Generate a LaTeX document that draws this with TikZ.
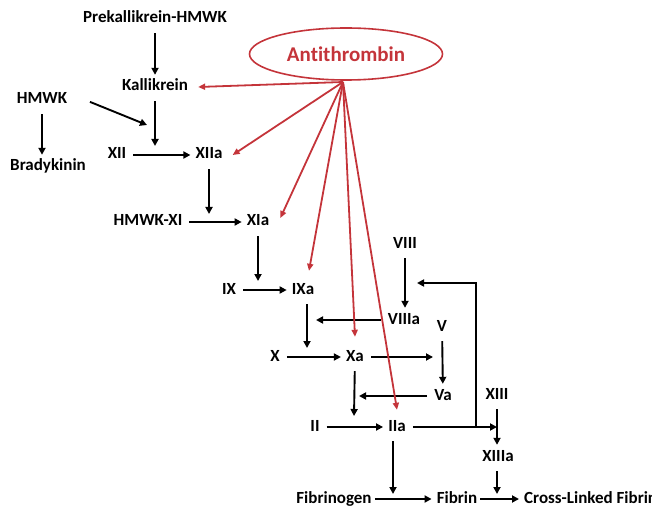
\documentclass[tikz,border=0pt]{standalone}
\usepackage{fontspec}
\setmainfont{Carlito}[Ligatures=NoCommon]
\usetikzlibrary{arrows.meta,shapes.geometric}
\definecolor{atred}{RGB}{196,52,58}

\begin{document}
\begin{tikzpicture}[
  x=1pt, y=-1pt,
  >={Triangle[length=7pt,width=7pt]},
  fac/.style={font=\fontsize{17}{20}\selectfont\bfseries, inner sep=2pt,
              text height=11pt, text depth=3pt},
  inhib/.style={draw=atred, ellipse, line width=1.6pt, text=atred,
                font=\fontsize{21}{24}\selectfont\bfseries,
                minimum width=193pt, minimum height=52pt},
  e/.style={->, line width=1.9pt, shorten >=3pt, shorten <=5pt},
  ep/.style={e, shorten >=0pt},
  ar/.style={->, atred, line width=1.8pt, >={Triangle[length=7pt,width=6pt]}}
]
\clip (0,0) rectangle (652,510);

% Factors are placed at the pixel positions of the reference (y runs downward).
\node[fac] (pk)    at (155,19)  {Prekallikrein-HMWK};
\node[fac] (kal)   at (155,87)  {Kallikrein};
\node[fac] (hmwk)  at (42,100)  {HMWK};
\node[fac] (brady) at (48,167)  {Bradykinin};
\node[fac] (xii)   at (117,155) {XII};
\node[fac] (xiia)  at (209,155) {XIIa};
\node[fac] (hxi)   at (148,222) {HMWK-XI};
\node[fac] (xia)   at (258,222) {XIa};
\node[fac] (ix)    at (229,290) {IX};
\node[fac] (ixa)   at (303,290) {IXa};
\node[fac] (viii)  at (405,244) {VIII};
\node[fac] (viiia) at (404,320) {VIIIa};
\node[fac] (v)     at (442,327) {V};
\node[fac] (x)     at (275,357) {X};
\node[fac] (xa)    at (355,357) {Xa};
\node[fac] (va)    at (443,396) {Va};
\node[fac] (xiii)  at (497,395) {XIII};
\node[fac] (ii)    at (315,427) {II};
\node[fac] (iia)   at (397,427) {IIa};
\node[fac] (xiiia) at (498,457) {XIIIa};
\node[fac] (fbg)   at (334,499) {Fibrinogen};
\node[fac] (fib)   at (457,499) {Fibrin};
\node[fac, anchor=west] (clf) at (522,499) {Cross-Linked Fibrin};

\node[inhib] (anti) at (346,54) {Antithrombin};
\coordinate (ahub) at (343,82);

% Free ends of the arrows that point at another arrow.
\coordinate (k1)  at (155,146);
\coordinate (h1)  at (147,125);
\coordinate (c2)  at (209,214);
\coordinate (c3)  at (258,281);
\coordinate (c4)  at (307,348);
\coordinate (c5)  at (316,320);
\coordinate (c6)  at (433,357);
\coordinate (c7)  at (359,396);
\coordinate (c8)  at (354,416);
\coordinate (c9)  at (497,427);
\coordinate (fb)  at (476,427);
\coordinate (c11) at (417,283);
\coordinate (c12) at (393,494);
\coordinate (c13) at (497,494);

\draw[e]  (pk)   -- (kal);
\draw[ep] (kal)  -- (k1);
\draw[ep] ([xshift=16pt]hmwk.east) -- (h1);
\draw[e]  (hmwk) -- (hmwk |- brady.north);
\draw[e]  (xii)  -- (xiia);
\draw[ep] (xiia) -- (c2);
\draw[e]  (hxi)  -- (xia);
\draw[ep] (xia)  -- (c3);
\draw[e]  (ix)   -- (ixa);
\draw[ep] (ixa.south -| c4) -- (c4);
\draw[e]  (viii) -- (viii |- viiia.north);
\draw[ep] (viiia) -- (c5);
\draw[e]  (x)    -- (xa);
\draw[ep] (xa)   -- (c6);
\draw[e]  (v)    -- (va);
\draw[ep] (va)   -- (c7);
\draw[ep] (xa)   -- (c8);
\draw[e]  (ii)   -- (iia);
\draw[ep] (iia)  -- (c9);
\draw[ep, shorten <=0pt] (fb) |- (c11);
\draw[e]  (xiii) -- (xiii |- xiiia.north);
\draw[ep] (iia.south -| c12) -- (c12);
\draw[ep] (xiiia.south -| c13) -- (c13);
\draw[e, shorten <=1pt]  (fbg)  -- (fib);
\draw[e, shorten <=1pt]  (fib)  -- (clf);

% Antithrombin inhibits every activated factor from one point on its rim.
\draw[ar] (ahub) -- ([xshift=8pt]kal.east);
\draw[ar] (ahub) -- ([xshift=8pt]xiia.east);
\draw[ar] (ahub) -- ([xshift=9pt,yshift=4pt]xia.east);
\draw[ar] (ahub) -- ([xshift=6pt,yshift=10pt]ixa.north);
\draw[ar] (ahub) -- ([yshift=11pt]xa.north);
\draw[ar] (ahub) -- ([yshift=8pt]iia.north);

\end{tikzpicture}
\end{document}
